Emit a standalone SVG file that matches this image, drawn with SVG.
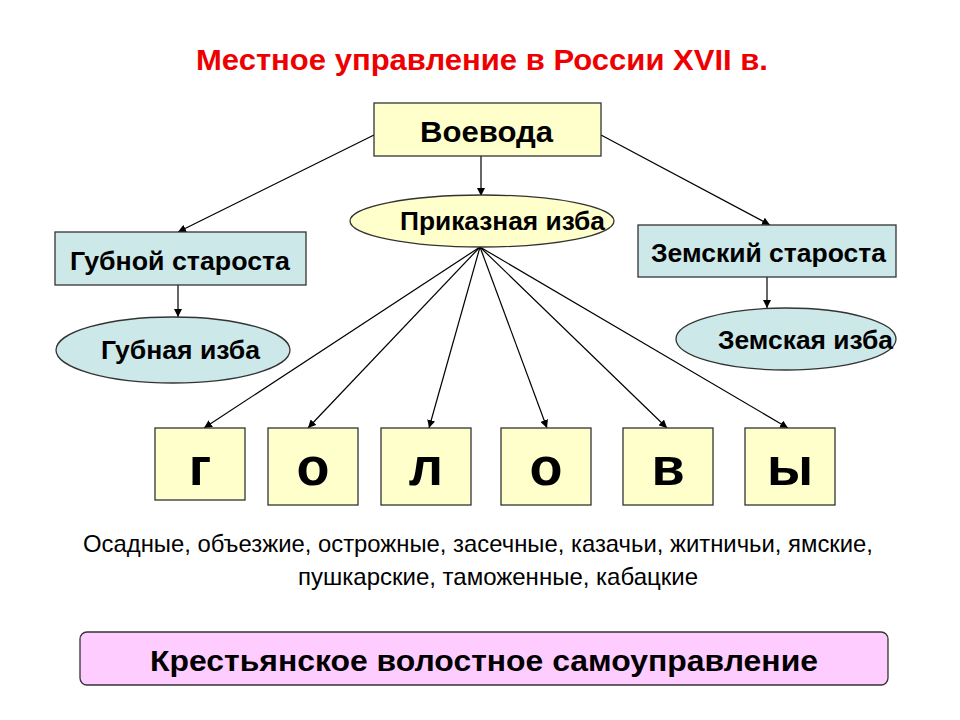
<svg xmlns="http://www.w3.org/2000/svg" width="960" height="720" viewBox="0 0 960 720">
<defs>
<marker id="ah" viewBox="0 0 10 10" refX="10" refY="5" markerWidth="8" markerHeight="8" markerUnits="userSpaceOnUse" orient="auto">
<path d="M0,0 L10,5 L0,10 z" fill="#000"/>
</marker>
<style>
.t{font-family:"Liberation Sans",Arial,sans-serif;fill:#000}
.b{font-weight:bold}
.y{fill:#FFFFCC;stroke:#333;stroke-width:1.3}
.c{fill:#CCE8E8;stroke:#333;stroke-width:1.3}
.p{fill:#FFCCFF;stroke:#333;stroke-width:1.3}
.ln{stroke:#000;stroke-width:1.2;fill:none;marker-end:url(#ah)}
.big{font-size:54px}
</style>
</defs>
<rect width="960" height="720" fill="#fff"/>
<text class="t b" x="482" y="70" font-size="29" text-anchor="middle" style="fill:#EE0000" textLength="572" lengthAdjust="spacingAndGlyphs">Местное управление в России XVII в.</text>

<g id="connectors">
<line class="ln" x1="481" y1="156" x2="481" y2="196"/>
<line class="ln" x1="374" y1="135" x2="178" y2="232"/>
<line class="ln" x1="601" y1="135" x2="770" y2="225"/>
<line class="ln" x1="178" y1="285" x2="178" y2="317"/>
<line class="ln" x1="767" y1="277" x2="767" y2="308"/>
<line class="ln" x1="480" y1="247" x2="204" y2="428"/>
<line class="ln" x1="480" y1="247" x2="308" y2="428"/>
<line class="ln" x1="480" y1="247" x2="429" y2="428"/>
<line class="ln" x1="480" y1="247" x2="547" y2="428"/>
<line class="ln" x1="480" y1="247" x2="667" y2="428"/>
<line class="ln" x1="480" y1="247" x2="788" y2="428"/>
</g>

<g id="voevoda">
<rect class="y" x="374" y="103" width="227" height="53"/>
<text class="t b" x="420" y="142" font-size="30" textLength="133" lengthAdjust="spacingAndGlyphs">Воевода</text>
</g>
<g id="prikaznaya">
<ellipse class="y" cx="482" cy="221" rx="132" ry="26"/>
<text class="t b" x="400" y="230" font-size="25" textLength="205" lengthAdjust="spacingAndGlyphs">Приказная изба</text>
</g>
<g id="gubnoy-starosta">
<rect class="c" x="55" y="232" width="251" height="53"/>
<text class="t b" x="70" y="270" font-size="25" textLength="220" lengthAdjust="spacingAndGlyphs">Губной староста</text>
</g>
<g id="gubnaya-izba">
<ellipse class="c" cx="173" cy="350" rx="117" ry="33"/>
<text class="t b" x="101" y="359" font-size="25" textLength="159" lengthAdjust="spacingAndGlyphs">Губная изба</text>
</g>
<g id="zemsky-starosta">
<rect class="c" x="638" y="225" width="258" height="52"/>
<text class="t b" x="651" y="262" font-size="25" textLength="235" lengthAdjust="spacingAndGlyphs">Земский староста</text>
</g>
<g id="zemskaya-izba">
<ellipse class="c" cx="786" cy="339" rx="110" ry="31"/>
<text class="t b" x="718" y="349" font-size="25" textLength="175" lengthAdjust="spacingAndGlyphs">Земская изба</text>
</g>

<g id="box-g"><rect class="y" x="155" y="428" width="90" height="72"/><text class="t b big" x="200" y="485" text-anchor="middle">г</text></g>
<g id="box-o1"><rect class="y" x="268" y="428" width="90" height="77"/><text class="t b big" x="313" y="485" text-anchor="middle">о</text></g>
<g id="box-l"><rect class="y" x="381" y="428" width="90" height="77"/><text class="t b big" x="426" y="485" text-anchor="middle">л</text></g>
<g id="box-o2"><rect class="y" x="501" y="428" width="90" height="77"/><text class="t b big" x="546" y="485" text-anchor="middle">о</text></g>
<g id="box-v"><rect class="y" x="623" y="428" width="90" height="77"/><text class="t b big" x="668" y="485" text-anchor="middle">в</text></g>
<g id="box-y"><rect class="y" x="745" y="428" width="90" height="77"/><text class="t b big" x="790" y="485" text-anchor="middle">ы</text></g>

<g id="list">
<text class="t" x="478" y="552" font-size="24" text-anchor="middle" textLength="790" lengthAdjust="spacingAndGlyphs">Осадные, объезжие, острожные, засечные, казачьи, житничьи, ямские,</text>
<text class="t" x="498" y="585" font-size="24" text-anchor="middle" textLength="400" lengthAdjust="spacingAndGlyphs">пушкарские, таможенные, кабацкие</text>
</g>

<g id="krestyanskoe">
<rect class="p" x="80" y="632" width="808" height="53" rx="7"/>
<text class="t b" x="484" y="671" font-size="30" text-anchor="middle" textLength="668" lengthAdjust="spacingAndGlyphs">Крестьянское волостное самоуправление</text>
</g>
</svg>
